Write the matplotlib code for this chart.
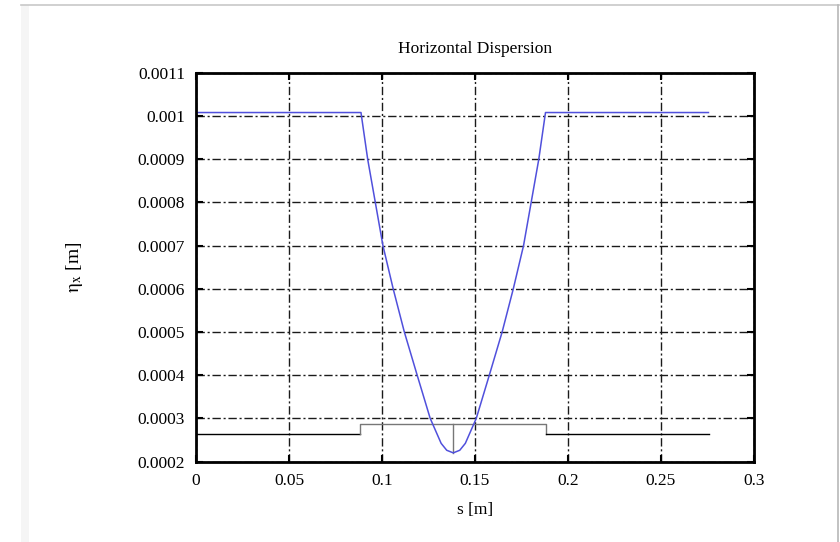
import numpy as np
import matplotlib.pyplot as plt
from matplotlib.lines import Line2D
from matplotlib.patches import Rectangle

plt.rcParams['font.family'] = ['Liberation Serif', 'DejaVu Serif']
plt.rcParams['mathtext.fontset'] = 'stix'

# dispersion along the cell
s_eta = [0.0, 0.0887, 0.0923, 0.0964, 0.1005, 0.1060, 0.1120, 0.1189, 0.1259,
         0.1318, 0.1348, 0.1383, 0.1418, 0.1448, 0.1507, 0.1577, 0.1646,
         0.1706, 0.1761, 0.1802, 0.1843, 0.1879, 0.2755]
eta_x = [0.001008, 0.001008, 0.0009, 0.0008, 0.0007, 0.0006, 0.0005, 0.0004,
         0.0003, 0.000242, 0.000226, 0.000220, 0.000226, 0.000242, 0.0003,
         0.0004, 0.0005, 0.0006, 0.0007, 0.0008, 0.0009, 0.001008, 0.001008]

# element layout (drift / bend / drift) and marker at the minimum
lat_s = [0.0, 0.0882, 0.0882, 0.1882, 0.1882, 0.2760]
lat_y = [0.000264, 0.000264, 0.000287, 0.000287, 0.000264, 0.000264]
mark_s = 0.1383
mark_y = [0.000287, 0.000220]

fig = plt.figure(figsize=(8.4, 5.42), dpi=100)
ax = fig.add_axes([196 / 840, 1 - 461.5 / 542, 558 / 840, 388.7 / 542])

ax.plot(lat_s[:2], lat_y[:2], color='black', lw=1.0)
ax.plot(lat_s[1:5], lat_y[1:5], color='#777777', lw=1.0)
ax.plot(lat_s[4:], lat_y[4:], color='black', lw=1.0)
ax.plot([mark_s, mark_s], mark_y, color='#777777', lw=1.0)
ax.plot(s_eta, eta_x, color='#5050dc', lw=1.1)

ax.set_xlim(0, 0.3)
ax.set_ylim(0.0002, 0.0011)
ax.set_xticks(np.arange(0, 0.31, 0.05))
ax.set_xticklabels(['0', '0.05', '0.1', '0.15', '0.2', '0.25', '0.3'])
ax.set_yticks(np.arange(0.0002, 0.00111, 0.0001))
ax.set_yticklabels(['0.0002', '0.0003', '0.0004', '0.0005', '0.0006', '0.0007',
                    '0.0008', '0.0009', '0.001', '0.0011'])
ax.tick_params(direction='in', length=5, width=1.5, top=True, right=True,
               labelsize=12.5, pad=8)
ax.grid(True, color='#1a1a1a', linestyle=(0, (6, 2, 1.5, 2)), lw=1.0)
for sp in ax.spines.values():
    sp.set_linewidth(2)

ax.set_title('Horizontal Dispersion', fontsize=12.5, pad=14)
ax.set_xlabel('s [m]', fontsize=12.5, labelpad=10)
ax.set_ylabel(r'$\mathrm{\eta_x}$ [m]', fontsize=14, labelpad=38)

# page border
fig.add_artist(Line2D([21 / 840, 1], [1 - 5 / 542, 1 - 5 / 542], color='#c8c8c8', lw=1.2))
fig.add_artist(Line2D([838 / 840, 838 / 840], [0, 1 - 5 / 542], color='#b8b8b8', lw=1.2))
fig.add_artist(Rectangle((21 / 840, 0), 8 / 840, 1 - 5 / 542, color='#f5f5f5', lw=0))

fig.savefig('out.png', dpi=100)
